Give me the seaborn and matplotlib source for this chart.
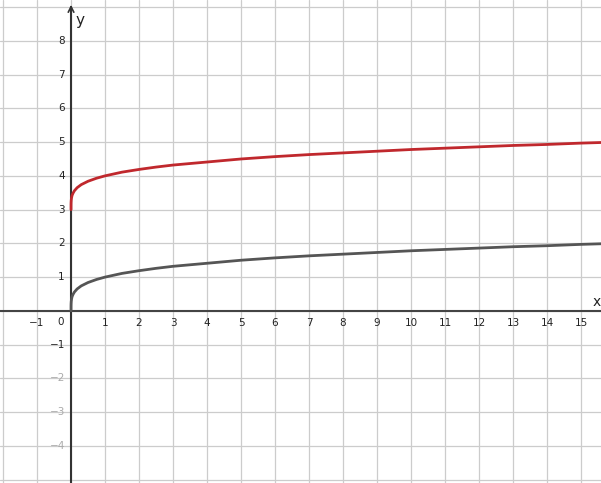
import matplotlib
matplotlib.use("Agg")
import matplotlib.pyplot as plt
import seaborn as sns
import pandas as pd

# Values
x_vals = [0, 0.0005, 0.002, 0.006, 0.015, 0.03, 0.06, 0.1, 0.18, 0.3, 0.5, 0.75,
          1, 1.5, 2, 2.5, 3, 4, 5, 6, 7, 8, 9, 10, 11, 12, 13, 14, 15, 16]
gray_vals = [0, 0.15, 0.21, 0.28, 0.35, 0.42, 0.49, 0.56, 0.65, 0.74, 0.84, 0.93,
             1.0, 1.11, 1.19, 1.26, 1.32, 1.41, 1.50, 1.57, 1.63, 1.68, 1.73, 1.78,
             1.82, 1.86, 1.90, 1.93, 1.97, 2.0]
red_vals = [3, 3.15, 3.21, 3.28, 3.35, 3.42, 3.49, 3.56, 3.65, 3.74, 3.84, 3.93,
            4.0, 4.11, 4.19, 4.26, 4.32, 4.41, 4.50, 4.57, 4.63, 4.68, 4.73, 4.78,
            4.82, 4.86, 4.90, 4.93, 4.97, 5.0]
x_ticks = list(range(-2, 17))
y_ticks = list(range(-5, 10))
x_tick_labels = [-1, 1, 2, 3, 4, 5, 6, 7, 8, 9, 10, 11, 12, 13, 14, 15]
y_tick_labels = [1, 2, 3, 4, 5, 6, 7, 8, -1]
y_faint_labels = [-2, -3, -4]

sns.set_style("white")
fig = plt.figure(figsize=(6.01, 4.83), dpi=100)
ax = fig.add_axes([0, 0, 1, 1])
for s in ax.spines.values():
    s.set_visible(False)

df = pd.DataFrame({"x": x_vals + x_vals,
                   "y": gray_vals + red_vals,
                   "f": ["g"] * len(x_vals) + ["h"] * len(x_vals)})
sns.lineplot(data=df, x="x", y="y", hue="f", palette={"g": "#555555", "h": "#c0282d"},
             linewidth=2.0, legend=False, ax=ax, sort=False, estimator=None, zorder=4)
ax.set_xlabel("")
ax.set_ylabel("")

ax.set_xticks(x_ticks)
ax.set_yticks(y_ticks)
ax.tick_params(length=0, labelbottom=False, labelleft=False)
ax.grid(True, color="#cccccc", linewidth=0.9)
ax.set_axisbelow(True)

# axes
ax.axhline(0, color="#444444", linewidth=1.5, zorder=2)
ax.plot([0, 0], [-5.2, 9.0], color="#333333", linewidth=1.5, zorder=2)
ax.annotate("", xy=(0, 9.15), xytext=(0, 8.8),
            arrowprops=dict(arrowstyle="->", color="#333333", lw=1.2,
                            mutation_scale=10), zorder=3)

fs = 7.5
for v in x_tick_labels:
    lab = str(v).replace("-", "\u2212")
    ax.text(v, -0.36, lab, ha="center", va="center", fontsize=fs, color="#222222")
for v in y_tick_labels:
    lab = str(v).replace("-", "\u2212")
    ax.text(-0.18, v, lab, ha="right", va="center", fontsize=fs, color="#222222")
for v in y_faint_labels:
    ax.text(-0.18, v, str(v).replace("-", "\u2212"), ha="right", va="center",
            fontsize=fs, color="#aaaaaa")
ax.text(-0.3, -0.33, "0", ha="center", va="center", fontsize=fs, color="#222222")
ax.text(15.47, 0.27, "x", ha="center", va="center", fontsize=10, color="#222222")
ax.text(0.26, 8.6, "y", ha="center", va="center", fontsize=11, color="#222222")

ax.set_xlim(-2.09, 15.59)
ax.set_ylim(-5.1, 9.21)

fig.savefig("out.png", dpi=100)
